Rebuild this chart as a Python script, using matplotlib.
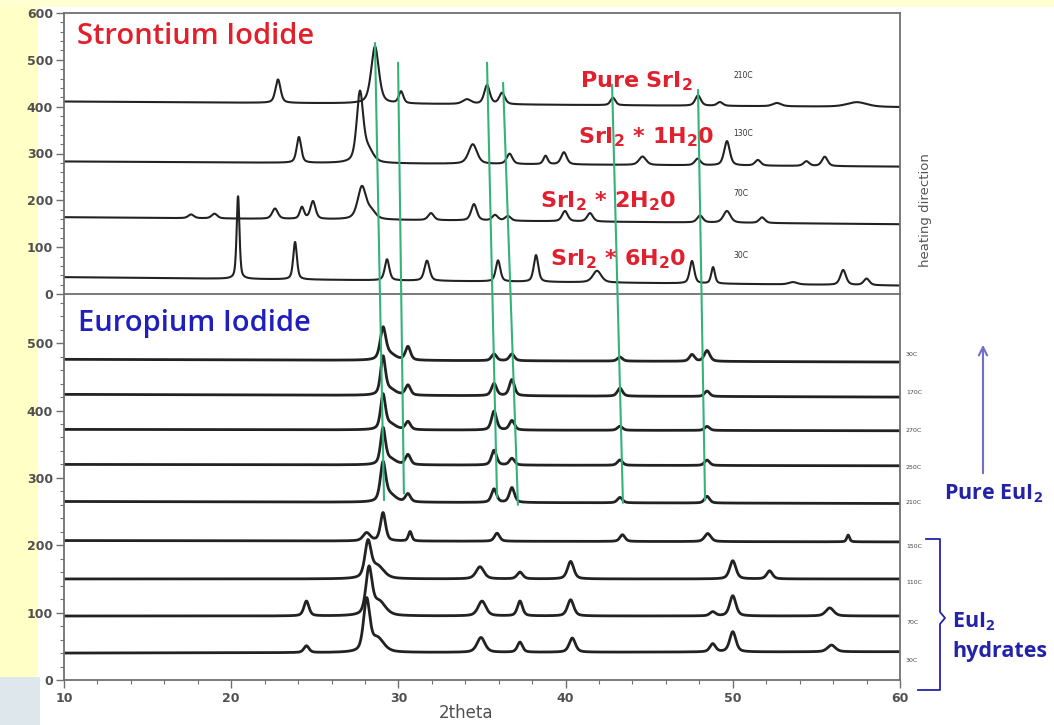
import numpy as np
import matplotlib
matplotlib.use("Agg")
import matplotlib.pyplot as plt
from matplotlib.patches import Rectangle, ConnectionPatch, FancyArrowPatch
from matplotlib.lines import Line2D
from matplotlib.ticker import MultipleLocator

plt.rcParams['mathtext.fontset'] = 'custom'
plt.rcParams['mathtext.rm'] = 'DejaVu Sans:bold'
plt.rcParams['mathtext.sf'] = 'Open Sans:bold'

# ---------------- data ----------------
# Strontium iodide traces: labels, baselines (left / right end) and peaks (2theta, height, half width)
sr_labels = ['210C', '130C', '70C', '30C']
sr_phase_labels = ['Pure SrI$_2$', 'SrI$_2$ * 1H$_2$0', 'SrI$_2$ * 2H$_2$0', 'SrI$_2$ * 6H$_2$0']
sr_base_left = [411, 283, 164, 36]
sr_base_right = [399, 272, 149, 18]
sr_210C_peaks = [(22.8, 50, .18), (28.6, 122, .27), (30.16, 25, .16), (34.1, 10, .3),
                 (35.3, 40, .2), (36.2, 24, .2), (42.83, 16, .17), (47.92, 22, .2),
                 (49.23, 8, .2), (52.64, 7, .3), (57.43, 10, .7)]
sr_130C_peaks = [(24.05, 55, .16), (27.7, 148, .23), (28.2, 25, .35), (34.45, 42, .3),
                 (36.65, 22, .2), (38.8, 18, .15), (39.9, 26, .2), (44.6, 18, .25),
                 (47.9, 14, .2), (49.65, 52, .2), (51.5, 12, .2), (54.4, 10, .2), (55.5, 20, .2)]
sr_70C_peaks = [(17.6, 8, .2), (19.0, 10, .2), (22.62, 22, .2), (24.23, 25, .15),
                (24.89, 38, .18), (27.82, 70, .3), (28.4, 15, .3), (31.95, 15, .2),
                (34.52, 35, .2), (35.78, 12, .2), (36.55, 10, .2), (39.96, 22, .2),
                (41.46, 18, .2), (48.04, 15, .2), (49.65, 25, .25), (51.75, 12, .2)]
sr_30C_peaks = [(20.41, 177, .1), (23.82, 80, .13), (29.32, 45, .16), (31.71, 43, .18),
                (35.96, 45, .16), (38.23, 57, .16), (41.88, 25, .3), (47.56, 48, .16),
                (48.82, 35, .13), (53.6, 5, .3), (56.6, 32, .2), (58.0, 14, .2)]
sr_peaks = [sr_210C_peaks, sr_130C_peaks, sr_70C_peaks, sr_30C_peaks]

# Europium iodide traces (top to bottom)
eu_labels = ['30C', '170C', '270C', '250C', '210C', '150C', '110C', '70C', '30C']
eu_base_left = [476, 424, 372, 320, 265, 207, 150, 95, 40]
eu_base_right = [472, 420, 370, 318, 262, 205, 150, 95, 42]
eu_30C_top_peaks = [(29.08, 46, .2), (29.5, 8, .4), (30.57, 20, .18), (35.72, 10, .18),
                    (36.79, 10, .18), (43.25, 6, .18), (47.56, 10, .18), (48.46, 16, .2)]
eu_170C_peaks = [(29.08, 55, .17), (29.5, 8, .4), (30.57, 15, .18), (35.72, 18, .18),
                 (36.79, 24, .18), (43.25, 12, .18), (48.46, 8, .18)]
eu_270C_peaks = [(29.08, 50, .17), (29.5, 8, .4), (30.57, 12, .18), (35.72, 28, .18),
                 (36.79, 14, .18), (43.25, 6, .18), (48.46, 6, .18)]
eu_250C_peaks = [(29.08, 52, .17), (29.5, 8, .4), (30.57, 15, .18), (35.72, 22, .18),
                 (36.79, 10, .18), (43.25, 8, .18), (48.46, 8, .18)]
eu_210C_peaks = [(29.08, 56, .19), (29.5, 10, .4), (30.57, 12, .18), (35.72, 20, .18),
                 (36.79, 22, .18), (43.25, 8, .18), (48.46, 10, .18)]
eu_150C_peaks = [(28.1, 12, .25), (29.08, 42, .18), (30.7, 14, .12), (35.9, 12, .18),
                 (43.4, 10, .18), (48.5, 12, .22), (56.9, 10, .1)]
eu_110C_peaks = [(28.18, 52, .22), (28.75, 18, .45), (34.88, 18, .28), (37.27, 10, .2),
                 (40.3, 26, .22), (50.0, 27, .22), (52.2, 12, .2)]
eu_70C_peaks = [(24.5, 22, .18), (28.24, 68, .22), (28.85, 20, .45), (35.0, 22, .28),
                (37.27, 22, .18), (40.3, 24, .22), (48.8, 6, .2), (50.0, 30, .22), (55.8, 12, .28)]
eu_30C_peaks = [(24.5, 10, .18), (28.1, 76, .22), (28.75, 20, .45), (34.94, 22, .28),
                (37.27, 15, .18), (40.4, 21, .22), (48.8, 12, .2), (50.0, 30, .22), (55.9, 10, .28)]
eu_peaks = [eu_30C_top_peaks, eu_170C_peaks, eu_270C_peaks, eu_250C_peaks, eu_210C_peaks,
            eu_150C_peaks, eu_110C_peaks, eu_70C_peaks, eu_30C_peaks]

# green guide lines: top end (Sr panel) and bottom end (Eu panel)
green_top_x = [28.60, 29.98, 35.30, 36.26, 42.78, 47.92]
green_top_y = [536, 494, 494, 451, 447, 436]
green_bot_x = [29.14, 30.33, 35.90, 37.15, 43.43, 48.34]
green_bot_y = [267, 277, 271, 260, 263, 267]

x_ticks = [10, 20, 30, 40, 50, 60]

# ---------------- helpers ----------------
tt = np.linspace(10, 60, 3001)


def profile(base_l, base_r, peaks):
    y = base_l + (base_r - base_l) * (tt - 10) / 50.0
    for p, h, w in peaks:
        d = (tt - p) / w
        y = y + h * (0.5 / (1 + d ** 2) + 0.5 * np.exp(-np.log(2) * d ** 2))
    return y


W, H = 1054, 725


def fx(px):
    return px / W


def fy(py):
    return 1 - py / H


fig = plt.figure(figsize=(W / 100, H / 100), dpi=100, facecolor='white')

# slide background pieces (behind everything)
fig.patches.append(Rectangle((0, 0), fx(38), 1, transform=fig.transFigure,
                             facecolor='#FFFFC6', edgecolor='none', zorder=-5))
fig.patches.append(Rectangle((0, fy(7)), 1, 7 / H, transform=fig.transFigure,
                             facecolor='#FFFFD2', edgecolor='none', zorder=-5))
fig.patches.append(Rectangle((0, 0), fx(40), 48 / H, transform=fig.transFigure,
                             facecolor='#DDE7EC', edgecolor='none', zorder=-4))

L, R = 64, 900
ax_top = fig.add_axes([fx(L), fy(294), fx(R - L), (294 - 13) / H])
ax_bot = fig.add_axes([fx(L), fy(680), fx(R - L), (680 - 294) / H])

spine_c = '#707070'
tick_c = '#505050'
for ax in (ax_top, ax_bot):
    ax.set_xlim(10, 60)
    ax.set_facecolor('white')
    for s in ax.spines.values():
        s.set_color(spine_c)
        s.set_linewidth(1.3)
    ax.tick_params(axis='y', direction='out', length=6, width=1, color=spine_c,
                   labelsize=9, labelcolor=tick_c, pad=2)
    ax.tick_params(axis='y', which='minor', direction='out', length=3, width=0.8, color=spine_c)

ax_top.set_ylim(0, 600)
ax_top.yaxis.set_major_locator(MultipleLocator(100))
ax_top.yaxis.set_minor_locator(MultipleLocator(20))
ax_top.set_xticks([])
ax_top.spines['bottom'].set_visible(False)

ax_bot.set_ylim(0, 573)
ax_bot.yaxis.set_major_locator(MultipleLocator(100))
ax_bot.yaxis.set_minor_locator(MultipleLocator(20))
ax_bot.set_xticks(x_ticks)
ax_bot.xaxis.set_minor_locator(MultipleLocator(2))
ax_bot.tick_params(axis='x', direction='out', length=6, width=1, color=spine_c,
                   labelsize=9, labelcolor=tick_c, pad=3)
ax_bot.tick_params(axis='x', which='minor', direction='out', length=3, width=0.8, color=spine_c)
for ax in (ax_top, ax_bot):
    for lab in ax.get_yticklabels() + ax.get_xticklabels():
        lab.set_fontweight('bold')
ax_bot.set_xlabel('2theta', fontsize=12, color=tick_c)
ax_bot.xaxis.set_label_coords(0.481, -0.062)

# traces
for bl, br, pk in zip(sr_base_left, sr_base_right, sr_peaks):
    ax_top.plot(tt, profile(bl, br, pk), color='#222222', lw=1.5, solid_joinstyle='round')
for bl, br, pk in zip(eu_base_left, eu_base_right, eu_peaks):
    ax_bot.plot(tt, profile(bl, br, pk), color='#222222', lw=2.0, solid_joinstyle='round')

# green guide lines across both panels
for x1, y1, x2, y2 in zip(green_top_x, green_top_y, green_bot_x, green_bot_y):
    con = ConnectionPatch(xyA=(x1, y1), coordsA=ax_top.transData,
                          xyB=(x2, y2), coordsB=ax_bot.transData,
                          color='#34B27C', lw=1.5, zorder=5)
    fig.add_artist(con)

# titles
fig.text(fx(77), fy(37), 'Strontium Iodide', family='Open Sans', fontsize=21, color='#E1202C',
         va='center', ha='left', fontweight='semibold')
fig.text(fx(78), fy(324), 'Europium Iodide', family='Open Sans', fontsize=21, color='#1F1FBE',
         va='center', ha='left', fontweight='semibold')

# Sr phase labels
phase_pos = [(580, 87), (578, 143), (540, 207), (550, 265)]
for (px, py), t in zip(phase_pos, sr_phase_labels):
    fig.text(fx(px), fy(py), t, family='DejaVu Sans', fontweight='bold', fontsize=16,
             color='#E0202E', va='baseline', ha='left')

sr_temp_pos = [75, 134, 194, 255]
for py, t in zip(sr_temp_pos, sr_labels):
    fig.text(fx(733), fy(py), t, fontsize=5.5, color='#333333', va='center', ha='left')

eu_temp_pos = [355, 393, 430, 467, 503, 547, 583, 622, 660]
for py, t in zip(eu_temp_pos, eu_labels):
    fig.text(fx(906), fy(py), t, fontsize=4.5, color='#444444', va='center', ha='left')

fig.text(fx(925), fy(210), 'heating direction', rotation=90, fontsize=9.5,
         family=['Liberation Sans Narrow', 'DejaVu Sans'], color='#555555',
         va='center', ha='center')

# right-side annotations
fig.add_artist(FancyArrowPatch(
    (fx(983), fy(476)), (fx(983), fy(342)), transform=fig.transFigure,
    arrowstyle='->,head_length=6,head_width=3', color='#7070C8', lw=1.5))
fig.text(fx(944), fy(494), r'Pure EuI$_\mathsf{2}$', family='Open Sans', fontweight='bold',
         fontsize=15.5, color='#2323A8', va='center', ha='left')

bx = 940
fig.add_artist(Line2D([fx(926), fx(bx), fx(bx), fx(945), fx(bx), fx(bx), fx(918)],
                      [fy(539), fy(539), fy(612), fy(618), fy(624), fy(690), fy(690)],
                      transform=fig.transFigure, color='#2323A8', lw=1.3))
fig.text(fx(952), fy(622), r'EuI$_\mathsf{2}$', family='Open Sans', fontweight='bold',
         fontsize=15.5, color='#2323A8', va='center', ha='left')
fig.text(fx(952), fy(652), 'hydrates', family='Open Sans', fontweight='bold',
         fontsize=15.5, color='#2323A8', va='center', ha='left')

fig.savefig('out.png', dpi=100, facecolor='white')
